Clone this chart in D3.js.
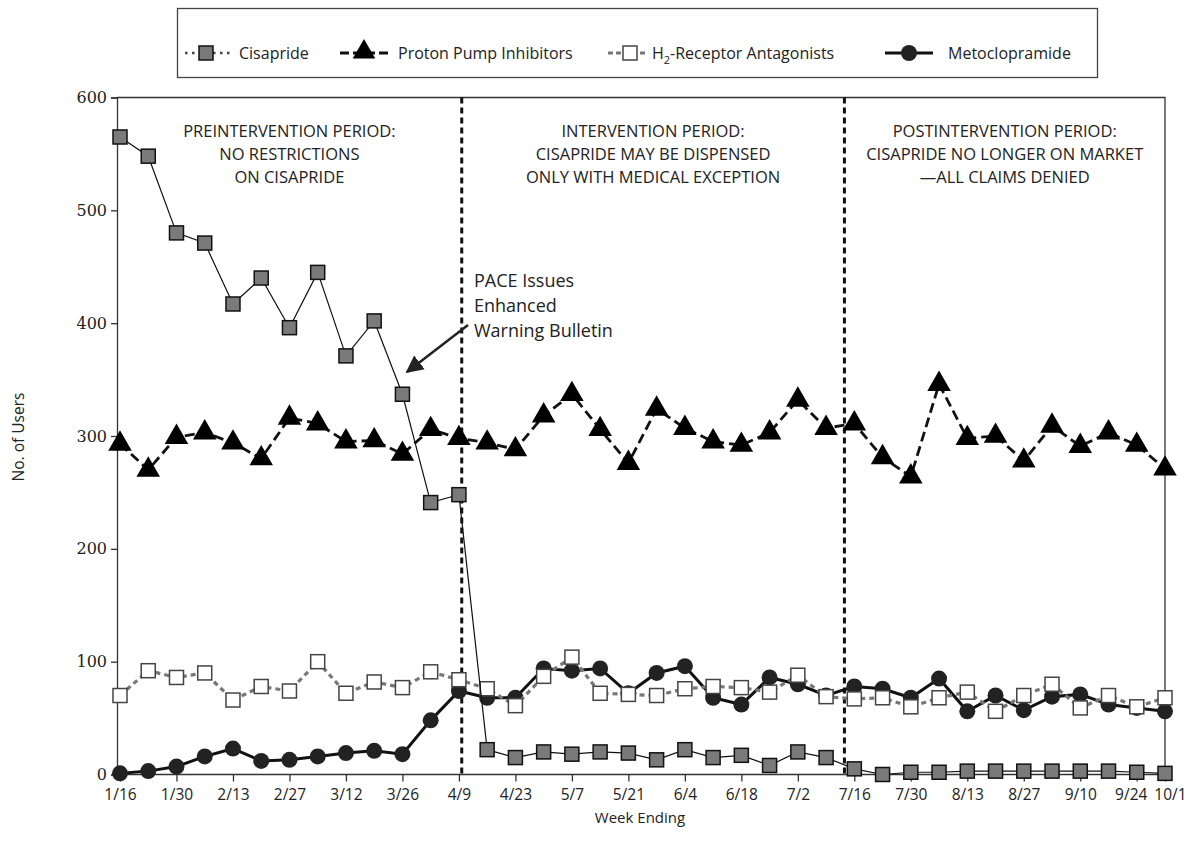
<!DOCTYPE html>
<html>
<head>
<meta charset="utf-8">
<script src="https://cdn.jsdelivr.net/npm/d3@7"></script>
<style>
body{margin:0;background:#fff;}
svg text{font-family:"Open Sans",Lato,sans-serif;fill:#222;}
</style>
</head>
<body>
<div id="chart"></div>
<script>
// week ending dates
const weeks=["1/16","1/23","1/30","2/6","2/13","2/20","2/27","3/5","3/12","3/19","3/26","4/2","4/9","4/16","4/23","4/30","5/7","5/14","5/21","5/28","6/4","6/11","6/18","6/25","7/2","7/9","7/16","7/23","7/30","8/6","8/13","8/20","8/27","9/3","9/10","9/17","9/24","10/1"];
const cisapride=[565,548,480,471,417,440,396,445,371,402,337,241,248,22,15,20,18,20,19,13,22,15,17,8,20,15,5,0,2,2,3,3,3,3,3,3,2,1];
const ppi=[293,270,299,303,294,280,316,311,295,296,284,306,298,294,288,318,337,306,276,324,307,295,292,303,332,307,311,281,264,346,298,300,278,309,291,303,292,271];
const h2ra=[70,92,86,90,66,78,74,100,72,82,77,91,84,76,61,87,104,72,71,70,76,78,77,73,88,69,67,68,60,68,73,56,70,80,59,70,60,68];
const metoclopramide=[1,3,7,16,23,12,13,16,19,21,18,48,74,68,68,94,92,94,72,90,96,68,62,86,80,70,78,76,68,85,56,70,57,69,71,62,59,56];
const yTicks=[0,100,200,300,400,500,600];
const periodBreaks=[12.1,25.65];
const periodLabels=[
  ["PREINTERVENTION PERIOD:","NO RESTRICTIONS","ON CISAPRIDE"],
  ["INTERVENTION PERIOD:","CISAPRIDE MAY BE DISPENSED","ONLY WITH MEDICAL EXCEPTION"],
  ["POSTINTERVENTION PERIOD:","CISAPRIDE NO LONGER ON MARKET","\u2014ALL CLAIMS DENIED"]
];
const noteLines=["PACE Issues","Enhanced","Warning Bulletin"];

const W=1188,H=849;
const pLeft=117,pRight=1165,pTop=97.5,pBottom=774.5;
const svg=d3.select("#chart").append("svg").attr("width",W).attr("height",H);

const x=d3.scaleLinear().domain([0,weeks.length-1]).range([120,1165]);
const y=d3.scaleLinear().domain([0,600]).range([pBottom,pTop]);

// frame
svg.append("path")
  .attr("d","M"+pLeft+","+pTop+"H"+pRight+"V"+pBottom)
  .attr("fill","none").attr("stroke","#333").attr("stroke-width",1.3);

// y axis
const yAxis=svg.append("g").attr("transform","translate("+pLeft+",0)")
  .call(d3.axisLeft(y).tickValues(yTicks).tickSize(6).tickPadding(4));
yAxis.select(".domain").attr("stroke","#333").attr("stroke-width",1.3);
yAxis.selectAll(".tick line").attr("stroke","#333").attr("stroke-width",1.3);
yAxis.selectAll("text").style("font-family","'DejaVu Serif',serif").style("font-size","16px").attr("fill","#222");

// x axis
const last=weeks.length-1;
const xTickIdx=weeks.map((d,i)=>i).filter(i=>i%2==0||i==last);
const xAxis=svg.append("g").attr("transform","translate(0,"+pBottom+")")
  .call(d3.axisBottom(x).tickValues(xTickIdx).tickFormat(i=>weeks[i]).tickSize(7).tickPadding(7));
xAxis.select(".domain").attr("d","M"+pLeft+",0H"+pRight).attr("stroke","#333").attr("stroke-width",1.3);
xAxis.selectAll(".tick line").attr("stroke","#333").attr("stroke-width",1.3);
xAxis.selectAll("text").style("font-size","15.5px").attr("fill","#222")
  .attr("dx",i=>i==last?5:(i==last-1?-6:0));

// axis titles
svg.append("text").attr("transform","translate(24,437) rotate(-90)").attr("text-anchor","middle")
  .style("font-size","15.5px").text("No. of Users");
svg.append("text").attr("x",640).attr("y",823).attr("text-anchor","middle")
  .style("font-size","15px").text("Week Ending");

// period separators
svg.selectAll(".brk").data(periodBreaks).join("line")
  .attr("x1",d=>x(d)).attr("x2",d=>x(d)).attr("y1",pTop).attr("y2",pBottom)
  .attr("stroke","#111").attr("stroke-width",3).attr("stroke-dasharray","6,4");

// period texts
const bounds=[pLeft].concat(periodBreaks.map(d=>x(d))).concat([pRight]);
periodLabels.forEach(function(lines,k){
  let cx=(bounds[k]+bounds[k+1])/2;
  let t=svg.append("text").attr("text-anchor","middle").style("font-size","16.5px").attr("fill","#333");
  lines.forEach(function(l,j){
    t.append("tspan").attr("x",cx).attr("y",137+j*23).text(l);
  });
});

// annotation
let nt=svg.append("text").style("font-size","18px");
noteLines.forEach(function(l,j){
  nt.append("tspan").attr("x",474).attr("y",287+j*25).text(l);
});
svg.append("defs").append("marker").attr("id","arr")
  .attr("viewBox","0 0 10 10").attr("refX",9).attr("refY",5)
  .attr("markerWidth",7).attr("markerHeight",7).attr("orient","auto")
  .append("path").attr("d","M0,0L10,5L0,10z").attr("fill","#222");
svg.append("line").attr("x1",468).attr("y1",325).attr("x2",407).attr("y2",372)
  .attr("stroke","#222").attr("stroke-width",2.5).attr("marker-end","url(#arr)");

const line=d3.line().x((d,i)=>x(i)).y(d=>y(d));

// PPI
svg.append("path").datum(ppi).attr("d",line).attr("fill","none")
  .attr("stroke","#111").attr("stroke-width",2.8).attr("stroke-dasharray","10,5");
svg.append("g").selectAll("path").data(ppi).join("path")
  .attr("transform",(d,i)=>"translate("+x(i)+","+y(d)+")")
  .attr("d",d3.symbol(d3.symbolTriangle,240)).attr("fill","#000");

// metoclopramide
svg.append("path").datum(metoclopramide).attr("d",line).attr("fill","none")
  .attr("stroke","#111").attr("stroke-width",3);
svg.append("g").selectAll("circle").data(metoclopramide).join("circle")
  .attr("cx",(d,i)=>x(i)).attr("cy",d=>y(d)).attr("r",8).attr("fill","#222");

// H2 receptor antagonists
svg.append("path").datum(h2ra).attr("d",line).attr("fill","none")
  .attr("stroke","#777").attr("stroke-width",3.2).attr("stroke-dasharray","5,4");
svg.append("g").selectAll("rect").data(h2ra).join("rect")
  .attr("x",(d,i)=>x(i)-7).attr("y",d=>y(d)-7).attr("width",14).attr("height",14)
  .attr("fill","#fff").attr("stroke","#444").attr("stroke-width",1.5);

// cisapride
svg.append("path").datum(cisapride).attr("d",line).attr("fill","none")
  .attr("stroke","#111").attr("stroke-width",1.2);
svg.append("g").selectAll("rect").data(cisapride).join("rect")
  .attr("x",(d,i)=>x(i)-7).attr("y",d=>y(d)-7).attr("width",14).attr("height",14)
  .attr("fill","#7a7a7a").attr("stroke","#111").attr("stroke-width",1.5);

// legend
const lg=svg.append("g");
lg.append("rect").attr("x",177.5).attr("y",8.5).attr("width",920).attr("height",69)
  .attr("fill","#fff").attr("stroke","#444").attr("stroke-width",1.3);
const ly=53;
// cisapride key
lg.append("line").attr("x1",185).attr("x2",232).attr("y1",ly).attr("y2",ly)
  .attr("stroke","#444").attr("stroke-width",2.5).attr("stroke-dasharray","2.5,4.5");
lg.append("rect").attr("x",199).attr("y",ly-7).attr("width",14).attr("height",14)
  .attr("fill","#7a7a7a").attr("stroke","#111").attr("stroke-width",1.5);
lg.append("text").attr("x",239).attr("y",ly+6).style("font-size","16px").text("Cisapride");
// ppi key
lg.append("line").attr("x1",340).attr("x2",388).attr("y1",ly).attr("y2",ly)
  .attr("stroke","#111").attr("stroke-width",2.8).attr("stroke-dasharray","9,4");
lg.append("path").attr("transform","translate(364,"+(ly-1)+")")
  .attr("d",d3.symbol(d3.symbolTriangle,220)).attr("fill","#000");
lg.append("text").attr("x",398).attr("y",ly+6).style("font-size","16px").text("Proton Pump Inhibitors");
// h2 key
lg.append("line").attr("x1",608).attr("x2",647).attr("y1",ly).attr("y2",ly)
  .attr("stroke","#777").attr("stroke-width",3.2).attr("stroke-dasharray","5,3");
lg.append("rect").attr("x",623).attr("y",ly-7).attr("width",14).attr("height",14)
  .attr("fill","#fff").attr("stroke","#444").attr("stroke-width",1.5);
let h2t=lg.append("text").attr("x",652).attr("y",ly+6).style("font-size","16px");
h2t.append("tspan").text("H");
h2t.append("tspan").attr("dy",5).style("font-size","11px").text("2");
h2t.append("tspan").attr("dy",-5).text("-Receptor Antagonists");
// metoclopramide key
lg.append("line").attr("x1",885).attr("x2",933).attr("y1",ly).attr("y2",ly)
  .attr("stroke","#111").attr("stroke-width",3);
lg.append("circle").attr("cx",909).attr("cy",ly).attr("r",8).attr("fill","#222");
lg.append("text").attr("x",948).attr("y",ly+6).style("font-size","16px").text("Metoclopramide");
</script>
</body>
</html>
